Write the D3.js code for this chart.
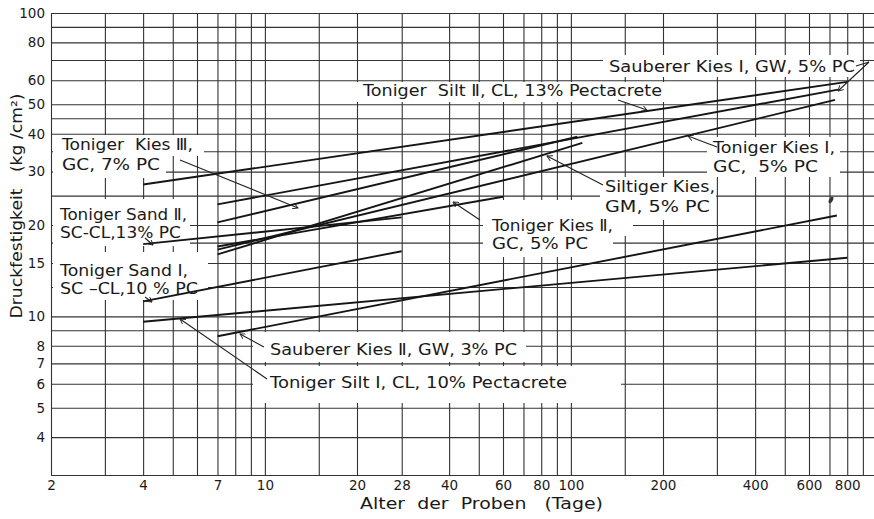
<!DOCTYPE html>
<html>
<head>
<meta charset="utf-8">
<script src="https://cdn.jsdelivr.net/npm/d3@7"></script>
<style>
body { margin: 0; background: #fff; }
text { font-family: "DejaVu Sans", sans-serif; fill: #1a1a1a; white-space: pre; }
.grid line { stroke: #333; stroke-width: 1.1; }
.grid .domain { display: none; }
</style>
</head>
<body>
<div id="chart"></div>
<script>
// grid and tick values (log-log paper)
const xGrid = [2,3,4,5,6,7,8,9,10,15,20,28,40,50,60,70,80,90,100,150,200,300,400,500,600,700,800,900]
const yGrid = [3,4,5,6,7,8,9,10,12.5,15,17.5,20,25,30,35,40,45,50,60,70,80,90,100]
const xTicks = [2,4,7,10,20,28,40,60,80,100,200,400,600,800]
const yTicks = [4,5,6,7,8,10,15,20,30,40,50,60,80,100]

// one straight line per soil mix, age in days -> strength kg/cm2
const seriesNames = ["Toniger Silt II","Sauberer Kies I","Toniger Kies III","Siltiger Kies","Toniger Kies I",
                     "Toniger Kies II","Toniger Sand II","Toniger Sand I","Toniger Silt I","Sauberer Kies II"]
const startAge      = [4, 7, 7, 7, 7, 7, 4, 4, 4, 7]
const endAge        = [800, 746, 105, 109, 730, 60, 28, 28, 800, 740]
const startStrength = [27.2, 23.4, 20.4, 16.0, 16.6, 17.0, 17.3, 11.2, 9.6, 8.6]
const endStrength   = [59.3, 55.9, 39.1, 37.3, 51.7, 24.8, 21.2, 16.4, 15.6, 21.5]

const W = 874, H = 519
const svg = d3.select('#chart').append('svg').attr('width', W).attr('height', H)

const x = d3.scaleLog().domain([2, 1000]).range([51, 51 + 306 * Math.log10(500)])
const y = d3.scaleLog().domain([3, 100]).range([475, 13])

// grid
svg.append('g').attr('class', 'grid').attr('transform', 'translate(0,475)')
   .call(d3.axisBottom(x).tickValues(xGrid).tickSize(-(475 - 13)).tickFormat(''))
svg.append('g').attr('class', 'grid').attr('transform', 'translate(51,0)')
   .call(d3.axisLeft(y).tickValues(yGrid).tickSize(-(W - 51)).tickFormat(''))

// white patches where the lettering cuts the grid
const boxes = [
  [53,135,204,156],[53,156,166,178],
  [53,199,190,246],
  [53,252,208,300],
  [253,332,526,362],
  [253,366,621,403],
  [355,82,668,102],
  [603,55,860,77],
  [707,137,840,177],
  [600,177,716,220],
  [483,200,633,236],[483,236,613,257]
]
svg.append('g').selectAll('rect').data(boxes).join('rect')
   .attr('x', d => d[0]).attr('y', d => d[1])
   .attr('width', d => d[2] - d[0]).attr('height', d => d[3] - d[1])
   .attr('fill', '#fff')

// data lines
const line = d3.line().x(d => x(d[0])).y(d => y(d[1]))
svg.append('g').selectAll('path').data(seriesNames).join('path')
   .attr('d', (d, i) => line([[startAge[i], startStrength[i]], [endAge[i], endStrength[i]]]))
   .attr('fill', 'none')
   .attr('stroke', '#151515')
   .attr('stroke-width', 1.9)

// labels
const labels = [
  {t: "Toniger  Kies Ⅲ,", x: 62, y: 150, w: 131},
  {t: "GC, 7% PC", x: 62, y: 170, w: 98},
  {t: "Toniger Sand Ⅱ,", x: 60, y: 220, w: 127},
  {t: "SC-CL,13% PC", x: 60, y: 238, w: 121},
  {t: "Toniger Sand I,", x: 60, y: 276, w: 128},
  {t: "SC –CL,10 % PC", x: 60, y: 294, w: 138},
  {t: "Sauberer Kies Ⅱ, GW, 3% PC", x: 270, y: 355, w: 247},
  {t: "Toniger Silt I, CL, 10% Pectacrete", x: 270, y: 388, w: 297},
  {t: "Toniger  Silt Ⅱ, CL, 13% Pectacrete", x: 363, y: 96, w: 299},
  {t: "Sauberer Kies I, GW, 5% PC", x: 609, y: 72, w: 246},
  {t: "Toniger Kies I,", x: 713, y: 153, w: 122},
  {t: "GC,  5% PC", x: 713, y: 172, w: 105},
  {t: "Siltiger Kies,", x: 605, y: 192, w: 110},
  {t: "GM, 5% PC", x: 605, y: 212, w: 105},
  {t: "Toniger Kies Ⅱ,", x: 492, y: 231, w: 121},
  {t: "GC, 5% PC", x: 492, y: 249, w: 96}
]
svg.append('g').selectAll('text').data(labels).join('text')
   .attr('x', d => d.x).attr('y', d => d.y)
   .attr('textLength', d => d.w).attr('lengthAdjust', 'spacingAndGlyphs')
   .style('font-size', '15px')
   .text(d => d.t)

// leader lines
svg.append('defs').append('marker')
   .attr('id', 'arr').attr('viewBox', '0 0 8 8').attr('refX', 7).attr('refY', 4)
   .attr('markerWidth', 6).attr('markerHeight', 6).attr('orient', 'auto')
   .attr('markerUnits', 'userSpaceOnUse')
   .append('path').attr('d', 'M0,0 L7,4 L0,8').attr('fill', 'none')
   .attr('stroke', '#222').attr('stroke-width', 1.2)

const leaders = [
  [[180,160],[298,208]],
  [[145,238],[153,245]],
  [[145,297],[152,302]],
  [[267,379],[180,319]],
  [[264,347],[240,334]],
  [[480,220],[453,202]],
  [[603,185],[547,156]],
  [[717,147],[688,136]],
  [[618,100],[647,110]],
  [[856,66],[869,62],[838,91]]
]
svg.append('g').selectAll('path').data(leaders).join('path')
   .attr('d', d => d3.line()(d))
   .attr('fill', 'none').attr('stroke', '#222').attr('stroke-width', 1.1)
   .attr('marker-end', 'url(#arr)')

// small ink blot on the original sheet
svg.append('ellipse').attr('cx', 831).attr('cy', 200).attr('rx', 1.8).attr('ry', 3.6)
   .attr('transform', 'rotate(30,831,200)').attr('fill', '#333')

// tick labels
svg.append('g').attr('transform', 'translate(0,475)')
   .call(d3.axisBottom(x).tickValues(xTicks).tickSize(0).tickPadding(5).tickFormat(d3.format('d')))
   .call(g => g.select('.domain').remove())
   .selectAll('text').style('font-size', '13.5px').attr('fill', '#1a1a1a')
svg.append('g').attr('transform', 'translate(51,0)')
   .call(d3.axisLeft(y).tickValues(yTicks).tickSize(0).tickPadding(6).tickFormat(d3.format('d')))
   .call(g => g.select('.domain').remove())
   .selectAll('text').style('font-size', '13.5px').attr('fill', '#1a1a1a')

// axis titles
svg.append('text').attr('x', 360).attr('y', 509)
   .attr('textLength', 243).attr('lengthAdjust', 'spacingAndGlyphs')
   .style('font-size', '15.5px').text('Alter  der  Proben   (Tage)')
svg.append('text').attr('transform', 'translate(22,206) rotate(-90)')
   .attr('text-anchor', 'middle')
   .attr('textLength', 225).attr('lengthAdjust', 'spacingAndGlyphs')
   .style('font-size', '15px').text('Druckfestigkeit   (kg /cm²)')
</script>
</body>
</html>
